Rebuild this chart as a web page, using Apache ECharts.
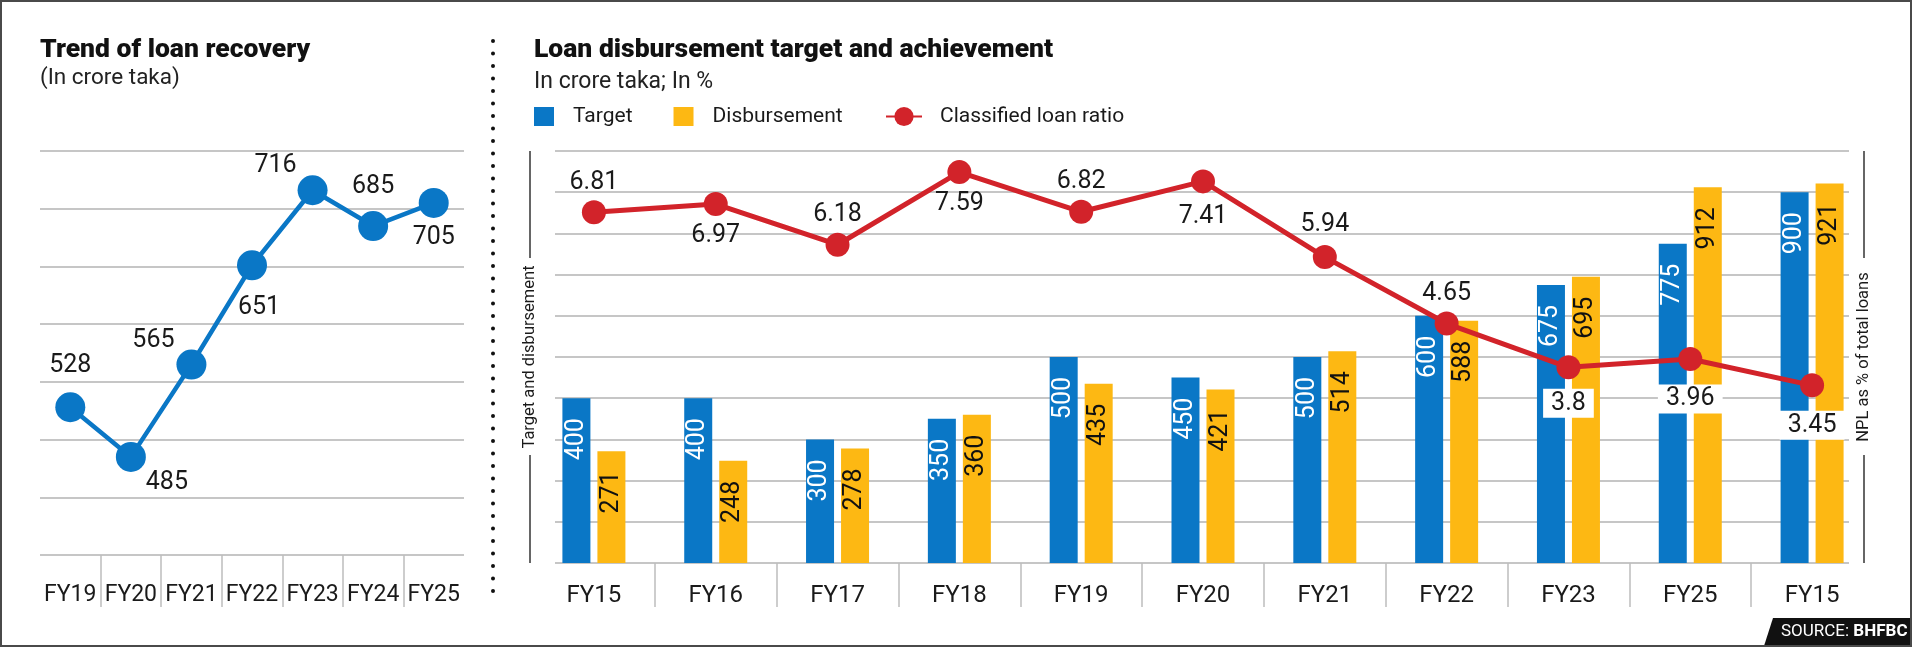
<!DOCTYPE html>
<html>
<head>
<meta charset="UTF-8">
<script src="https://cdn.jsdelivr.net/npm/echarts@6/dist/echarts.min.js"></script>
<style>
  html, body { margin: 0; padding: 0; background: #fff; }
  #main { position: absolute; left: 0; top: 0; width: 1912px; height: 652px; }
  #frame { position: absolute; left: 0; top: 0; width: 1908px; height: 643px; border: 2px solid #4a4a4a; pointer-events: none; }
</style>
</head>
<body>
<div id="main"></div>
<div id="frame"></div>
<script>
// left chart: loan recovery (crore taka)
const recoveryYears = ['FY19', 'FY20', 'FY21', 'FY22', 'FY23', 'FY24', 'FY25'];
const recoveryValues = [528, 485, 565, 651, 716, 685, 705];

// right chart: target vs disbursement (crore taka) and classified loan ratio (%)
const disbYears = ['FY15', 'FY16', 'FY17', 'FY18', 'FY19', 'FY20', 'FY21', 'FY22', 'FY23', 'FY25', 'FY15'];
const targetValues = [400, 400, 300, 350, 500, 450, 500, 600, 675, 775, 900];
const disbursementValues = [271, 248, 278, 360, 435, 421, 514, 588, 695, 912, 921];
const loanRatio = [6.81, 6.97, 6.18, 7.59, 6.82, 7.41, 5.94, 4.65, 3.8, 3.96, 3.45];

// label placement (style only)
const recoveryLabelOffset = [[0, -42], [36, 26], [-38, -24], [7, 42], [-37, -24], [0, -39], [0, 35]];
const ratioLabelOffset = [-30, 32, -30, 32, -30, 35, -32, -30, 36, 40, 40];
const ratioLabelBoxed = [false, false, false, false, false, false, false, false, true, true, true];

const FONT = 'Roboto, "Noto Sans", sans-serif';
const BLUE = '#0a77c6';
const YELLOW = '#fdb813';
const RED = '#d2232a';
const GRID = '#c6c6c6';
const INK = '#1a1a1a';

const chart = echarts.init(document.getElementById('main'));

const catLabel = (margin, size) => ({ interval: 0, margin: margin, fontFamily: FONT, fontSize: size, lineHeight: 25, color: INK });
const separatorAxis = (gridIndex, n, len) => ({
  type: 'category', gridIndex: gridIndex, position: 'bottom', boundaryGap: false,
  data: new Array(n + 1).fill(''),
  axisLine: { show: false }, axisLabel: { show: false },
  axisTick: { show: true, length: len, interval: (i) => i > 0 && i < n, lineStyle: { color: '#bdbdbd', width: 1.5 } }
});
const titleStyle = { fontFamily: FONT, fontSize: 26.5, fontWeight: 900, lineHeight: 30, color: '#111' };
const subStyle = (size) => ({ fontFamily: FONT, fontSize: size, fontWeight: 'normal', lineHeight: 26, color: '#222' });
const axisNameStyle = { fontFamily: FONT, fontSize: 16.5, color: INK, align: 'center', verticalAlign: 'middle' };
// short rules above and below the rotated axis names
const rule = (x, y1, y2) => ({ type: 'line', shape: { x1: x, y1: y1, x2: x, y2: y2 },
  style: { stroke: '#333', lineWidth: 1.5 } });

const option = {
  animation: false,
  backgroundColor: '#fff',
  textStyle: { fontFamily: FONT },
  title: [
    { text: 'Trend of loan recovery', left: 40, top: 35, padding: 0, textStyle: titleStyle },
    { text: '(In crore taka)', left: 40, top: 65, padding: 0, textStyle: subStyle(22.5) },
    { text: 'Loan disbursement target and achievement', left: 534, top: 35, padding: 0, textStyle: titleStyle },
    { text: 'In crore taka; In %', left: 534, top: 69, padding: 0, textStyle: subStyle(23) }
  ],
  legend: [
    { left: 534, top: 106, padding: 0, itemWidth: 20, itemHeight: 19, itemGap: 41, icon: 'rect', selectedMode: false,
      data: ['Target', 'Disbursement'],
      textStyle: { fontFamily: FONT, fontSize: 21, color: INK, padding: [0, 0, 0, 14] } },
    { left: 885, top: 106, padding: 0, itemWidth: 36, itemHeight: 24, selectedMode: false,
      data: ['Classified loan ratio'],
      textStyle: { fontFamily: FONT, fontSize: 21, color: INK, padding: [0, 0, 0, 13] } }
  ],
  grid: [
    { left: 40, top: 151, width: 424, height: 404 },
    { left: 533, top: 151, width: 1340, height: 412 },
    { left: 555, top: 151, width: 1294, height: 412 }
  ],
  xAxis: [
    { type: 'category', gridIndex: 0, position: 'bottom', data: recoveryYears,
      axisLine: { show: false }, axisTick: { show: false }, axisLabel: catLabel(28, 23) },
    separatorAxis(0, recoveryYears.length, 52),
    { type: 'category', gridIndex: 1, position: 'bottom', data: disbYears,
      axisLine: { show: false }, axisTick: { show: false }, axisLabel: catLabel(20, 24) },
    separatorAxis(1, disbYears.length, 44),
    { type: 'value', gridIndex: 2, show: false, min: 0, max: 1 }
  ],
  yAxis: [
    { type: 'value', gridIndex: 0, min: 400, max: 750, interval: 50,
      axisLine: { show: false }, axisTick: { show: false }, axisLabel: { show: false },
      splitLine: { lineStyle: { color: GRID, width: 2 } } },
    { type: 'value', gridIndex: 1, position: 'left', offset: 3, min: 0, max: 1000, interval: 100,
      axisLine: { show: false }, axisTick: { show: false }, axisLabel: { show: false }, splitLine: { show: false },
      name: 'Target and disbursement', nameLocation: 'middle', nameRotate: 90, nameGap: 0,
      nameTextStyle: axisNameStyle },
    { type: 'value', gridIndex: 1, position: 'right', offset: -9, min: 0, max: 8, interval: 0.8,
      axisLine: { show: false }, axisTick: { show: false }, axisLabel: { show: false }, splitLine: { show: false },
      name: 'NPL as % of total loans', nameLocation: 'middle', nameRotate: 90, nameGap: 0,
      nameTextStyle: axisNameStyle },
    { type: 'value', gridIndex: 2, min: 0, max: 1000, interval: 100,
      axisLine: { show: false }, axisTick: { show: false }, axisLabel: { show: false },
      splitLine: { lineStyle: { color: GRID, width: 2 } } }
  ],
  series: [
    {
      name: 'Recovery', type: 'line', xAxisIndex: 0, yAxisIndex: 0,
      data: recoveryValues.map((v, i) => ({ value: v, label: { offset: recoveryLabelOffset[i] } })),
      symbol: 'circle', symbolSize: 30,
      lineStyle: { color: BLUE, width: 4.5 }, itemStyle: { color: BLUE },
      label: { show: true, position: 'inside', fontFamily: FONT, fontSize: 25, color: INK }
    },
    {
      name: 'Target', type: 'bar', xAxisIndex: 2, yAxisIndex: 1,
      data: targetValues, barWidth: 28, barGap: '25%',
      itemStyle: { color: BLUE },
      label: { show: true, position: 'insideTop', distance: 20, rotate: 90, align: 'right', verticalAlign: 'middle',
        fontFamily: FONT, fontSize: 25, color: '#fff' }
    },
    {
      name: 'Disbursement', type: 'bar', xAxisIndex: 2, yAxisIndex: 1,
      data: disbursementValues, barWidth: 28, barGap: '25%',
      itemStyle: { color: YELLOW },
      label: { show: true, position: 'insideTop', distance: 20, rotate: 90, align: 'right', verticalAlign: 'middle',
        fontFamily: FONT, fontSize: 25, color: '#111' }
    },
    {
      name: 'Classified loan ratio', type: 'line', xAxisIndex: 2, yAxisIndex: 2, z: 5,
      data: loanRatio.map((v, i) => ({
        value: v,
        label: ratioLabelBoxed[i]
          ? { offset: [0, ratioLabelOffset[i]], backgroundColor: '#fff', padding: [3, 8, 1, 8] }
          : { offset: [0, ratioLabelOffset[i]] }
      })),
      symbol: 'circle', symbolSize: 24,
      lineStyle: { color: RED, width: 5 }, itemStyle: { color: RED },
      label: { show: true, position: 'inside', fontFamily: FONT, fontSize: 25, color: INK }
    }
  ],
  graphic: [
    { type: 'line', shape: { x1: 493, y1: 41, x2: 493, y2: 603 },
      style: { stroke: '#111', lineWidth: 4, lineDash: [0, 12.5], lineCap: 'round' } },
    rule(530, 151, 258), rule(530, 455, 563),
    rule(1864, 151, 258), rule(1864, 455, 563),
    { type: 'polygon', shape: { points: [[1764, 646], [1773, 618], [1912, 618], [1912, 646]] },
      style: { fill: '#111' } },
    { type: 'text', x: 1781, y: 632,
      style: { text: '{a|SOURCE: }{b|BHFBC}', verticalAlign: 'middle', fill: '#fff',
        rich: { a: { fontFamily: FONT, fontSize: 17, fill: '#fff' },
                b: { fontFamily: FONT, fontSize: 17, fontWeight: 'bold', fill: '#fff' } } } }
  ]
};

chart.setOption(option);
window.addEventListener('resize', () => chart.resize());
</script>
</body>
</html>
